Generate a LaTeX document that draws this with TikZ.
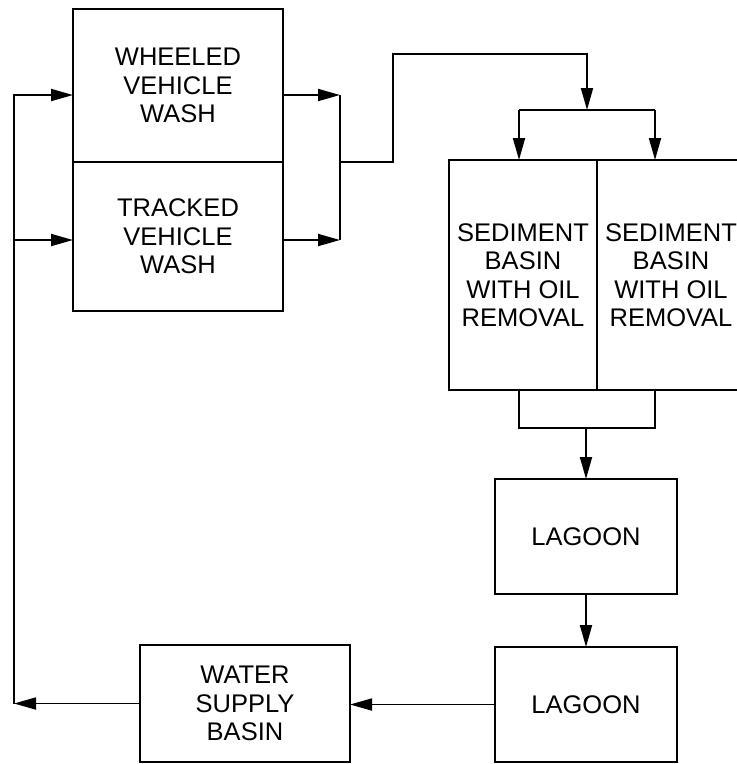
\documentclass[tikz,border=0pt]{standalone}
\usepackage{fontspec}
\setmainfont{Liberation Sans}
\usetikzlibrary{arrows.meta}
\tikzset{
	unit/.style={draw,line width=2.2pt,outer sep=0pt,align=center,font=\fontsize{25.5}{28.5}\selectfont},
	flow/.style={line width=1.8pt,-{Triangle[length=22pt,width=12pt]}},
	pipe/.style={line width=1.8pt},
}
\begin{document}
\begin{tikzpicture}[x=1pt,y=-1pt]
		\useasboundingbox (0,0) rectangle (737,764);
		\clip (0,0) rectangle (737,764);
		\node[unit,minimum width=210pt,minimum height=153pt] (wheeled) at (178,85.5) {WHEELED\\VEHICLE\\WASH};
		\node[unit,minimum width=210pt,minimum height=149pt] (tracked) at (178,236.5) {TRACKED\\VEHICLE\\WASH};
		\node[unit,minimum width=148pt,minimum height=230pt] (sedA) at (523,275) {SEDIMENT\\BASIN\\WITH OIL\\REMOVAL};
		\node[unit,minimum width=148pt,minimum height=230pt] (sedB) at (671,275) {SEDIMENT\\BASIN\\WITH OIL\\REMOVAL};
		\node[unit,minimum width=182pt,minimum height=115pt] (lagA) at (586,536.5) {LAGOON};
		\node[unit,minimum width=182pt,minimum height=115pt] (lagB) at (586,704.5) {LAGOON};
		\node[unit,minimum width=210pt,minimum height=117pt] (supply) at (245,703.5) {WATER\\SUPPLY\\BASIN};
		\coordinate (outA) at (340,95);
		\coordinate (outB) at (340,240);
		\coordinate (join) at (340,162);
		\coordinate (split) at (587,110);
		\coordinate (feedA) at (519,110);
		\coordinate (feedB) at (655,110);
		\coordinate (drainA) at (519,428);
		\coordinate (drainB) at (655,428);
		\coordinate (ret) at (14,703.5);
		\draw[flow] ([yshift=-9.5pt]wheeled.east) -- (outA);
		\draw[flow] ([yshift=-3.5pt]tracked.east) -- (outB);
		\draw[pipe] (outA) -- (outB);
		\draw[flow] (join) -- (393,162) -- (393,54) -| (split);
		\draw[pipe] (feedA) -- (feedB);
		\draw[flow] (feedA) -- (feedA |- sedA.north);
		\draw[flow] (feedB) -- (feedB |- sedB.north);
		\draw[pipe] (drainA |- sedA.south) -- (drainA) -- (drainB) -- (drainB |- sedB.south);
		\draw[flow] (drainA -| lagA.north) -- (lagA.north);
		\draw[flow] (lagA.south) -- (lagB.north);
		\draw[flow] (lagB.west) -- (lagB.west -| supply.east);
		\draw[flow] (supply.west) -- (ret);
		\draw[flow] (ret) |- ([yshift=-9.5pt]wheeled.west);
		\draw[flow] (ret) |- ([yshift=-3.5pt]tracked.west);
		\end{tikzpicture}
\end{document}
